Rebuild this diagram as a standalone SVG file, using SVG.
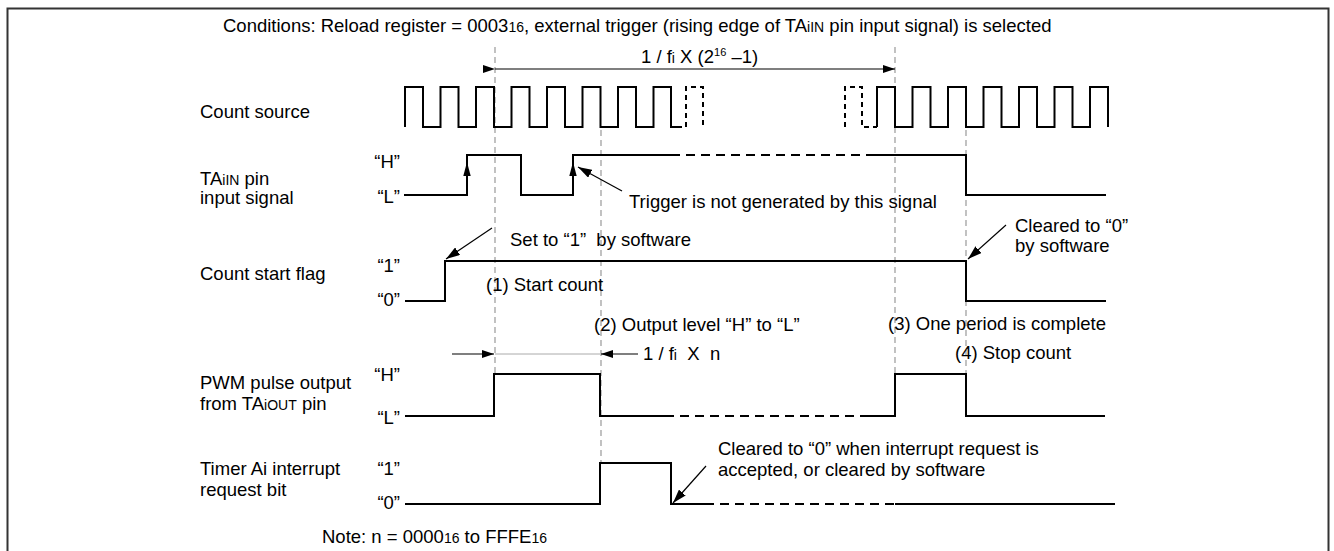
<svg xmlns="http://www.w3.org/2000/svg" width="1334" height="551" viewBox="0 0 1334 551">
<style>
text{font-family:"Liberation Sans",Arial,sans-serif;font-size:18.5px;fill:#000}
.sm{font-size:14px}
.w{fill:none;stroke:#000;stroke-width:2}
.wd{fill:none;stroke:#000;stroke-width:2;stroke-dasharray:9,6}
.g{fill:none;stroke:#999;stroke-width:1.2;stroke-dasharray:6,4}
.p{fill:none;stroke:#000;stroke-width:1.2}
.lv{text-anchor:end}
</style>
<defs>
<marker id="ah" viewBox="0 0 12 8" refX="12" refY="4" markerWidth="12" markerHeight="8" markerUnits="userSpaceOnUse" orient="auto"><path d="M0,0 L12,4 L0,8 z" fill="#000"/></marker>
<marker id="ap" viewBox="0 0 14 9" refX="14" refY="4.5" markerWidth="14" markerHeight="9" markerUnits="userSpaceOnUse" orient="auto"><path d="M0,0 L14,4.5 L0,9 z" fill="#000"/></marker>
</defs>
<rect x="7.5" y="8.5" width="1321" height="560" fill="#fff" stroke="#333" stroke-width="2"/>
<text x="223" y="32">Conditions: Reload register = 0003<tspan class="sm">16</tspan>, external trigger (rising edge of TA<tspan class="sm">iIN</tspan> pin input signal) is selected</text>

<g id="guides">
<line class="g" x1="495" y1="47" x2="495" y2="374"/>
<line class="g" x1="601" y1="130" x2="601" y2="463"/>
<line class="g" x1="895" y1="47" x2="895" y2="374"/>
<line class="g" x1="966" y1="130" x2="966" y2="374"/>
</g>

<g id="period">
<line class="p" x1="495" y1="69" x2="895" y2="69" marker-start="url(#ah)" marker-end="url(#ah)"/>
<text x="641" y="63">1 / f<tspan class="sm">i</tspan> X (2<tspan font-size="11" dy="-7">16</tspan><tspan dy="7" xml:space="preserve"> –1)</tspan></text>
</g>

<g id="count-source">
<text x="200" y="118">Count source</text>
<path class="w" d="M405,127 V87 H423 V127 H440.5 V87 H458.5 V127 H476 V87 H494 V127 H511.5 V87 H529.5 V127 H547 V87 H565 V127 H582.5 V87 H600.5 V127 H618 V87 H636 V127 H653.5 V87 H671 V127 H677"/>
<path class="wd" style="stroke-dasharray:5,4" d="M677,127 H686 V87 H703 V127"/>
<path class="wd" style="stroke-dasharray:5,4" d="M845,127 V87 H862 V127 H877"/>
<path class="w" d="M877,127 V87 H895 V127 H912.5 V87 H930.5 V127 H948 V87 H966 V127 H983.5 V87 H1001.5 V127 H1019 V87 H1037 V127 H1054.5 V87 H1072.5 V127 H1090 V87 H1108 V127"/>
</g>

<g id="tain">
<text x="200" y="185">TA<tspan class="sm">iIN</tspan> pin</text>
<text x="200" y="204">input signal</text>
<text class="lv" x="400" y="168">“H”</text>
<text class="lv" x="400" y="203">“L”</text>
<path class="w" d="M404,195 H467 V155 H521 V195 H573 V155 H671"/>
<path class="wd" d="M671,155 H867"/>
<path class="w" d="M867,155 H966 V195 H1106"/>
<polygon points="467,162 463.3,176 470.7,176" fill="#000"/>
<polygon points="573,162 569.3,176 576.7,176" fill="#000"/>
<line class="p" x1="622" y1="191" x2="578" y2="167" marker-end="url(#ap)"/>
<text x="629" y="208">Trigger is not generated by this signal</text>
</g>

<g id="count-start-flag">
<text x="200" y="280">Count start flag</text>
<text class="lv" x="400" y="272">“1”</text>
<text class="lv" x="400" y="306">“0”</text>
<path class="w" d="M405,301 H445 V261 H966 V301 H1106"/>
<line class="p" x1="492" y1="228" x2="446" y2="259" marker-end="url(#ap)"/>
<text x="510" y="246" xml:space="preserve">Set to “1”  by software</text>
<line class="p" x1="1006" y1="225" x2="968" y2="259" marker-end="url(#ap)"/>
<text x="1015" y="232">Cleared to “0”</text>
<text x="1015" y="252">by software</text>
<text x="486" y="291">(1) Start count</text>
<text x="594" y="331">(2) Output level “H” to “L”</text>
<text x="888" y="330">(3) One period is complete</text>
</g>

<g id="pwm">
<line class="p" x1="452" y1="354" x2="494" y2="354" marker-end="url(#ah)"/>
<line x1="495" y1="354" x2="600" y2="354" stroke="#aaa" stroke-width="1"/>
<line class="p" x1="638" y1="354" x2="601" y2="354" marker-end="url(#ah)"/>
<text x="643" y="360" xml:space="preserve">1 / f<tspan class="sm">i</tspan>  X  n</text>
<text x="955" y="359">(4) Stop count</text>
<text x="200" y="389">PWM pulse output</text>
<text x="200" y="410">from TA<tspan class="sm">iOUT</tspan> pin</text>
<text class="lv" x="400" y="381">“H”</text>
<text class="lv" x="400" y="424">“L”</text>
<path class="w" d="M405,416 H494 V374 H600 V416 H665"/>
<path class="wd" d="M665,416 H868"/>
<path class="w" d="M868,416 H895 V374 H966 V416 H1105"/>
</g>

<g id="interrupt">
<text x="200" y="475">Timer Ai interrupt</text>
<text x="200" y="496">request bit</text>
<text class="lv" x="400" y="475">“1”</text>
<text class="lv" x="400" y="509">“0”</text>
<path class="w" d="M405,504 H600 V463 H671 V504 H705"/>
<path class="wd" d="M705,504 H895"/>
<path class="w" d="M895,504 H1115"/>
<line class="p" x1="706" y1="466" x2="673" y2="503" marker-end="url(#ap)"/>
<text x="718" y="455">Cleared to “0” when interrupt request is</text>
<text x="718" y="476">accepted, or cleared by software</text>
</g>

<text x="322" y="543">Note: n = 0000<tspan class="sm">16</tspan> to FFFE<tspan class="sm">16</tspan></text>
</svg>
